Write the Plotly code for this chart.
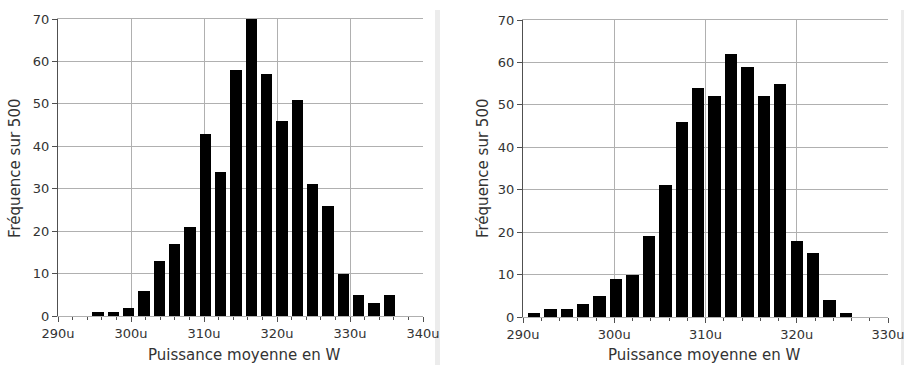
import plotly.graph_objects as go

W, H = 904, 365

# Left histogram
left_centers = [295.5, 297.6, 299.7, 301.8, 303.9, 306.0, 308.1, 310.2, 312.3, 314.4,
                316.5, 318.6, 320.7, 322.8, 324.9, 327.0, 329.1, 331.2, 333.3, 335.4]
left_counts = [1, 1, 2, 6, 13, 17, 21, 43, 34, 58, 70, 57, 46, 51, 31, 26, 10, 5, 3, 5]

# Right histogram
right_centers = [291.2, 293.0, 294.8, 296.6, 298.4, 300.2, 302.0, 303.8, 305.6, 307.4,
                 309.2, 311.0, 312.8, 314.6, 316.4, 318.2, 320.0, 321.8, 323.6, 325.4]
right_counts = [1, 2, 2, 3, 5, 9, 10, 19, 31, 46, 54, 52, 62, 59, 52, 55, 18, 15, 4, 1]

x_title = "Puissance moyenne en W"
y_title = "Fréquence sur 500"

FONT = "DejaVu Sans"
TXT = "#333333"
GRID = "#b0b0b0"
AXIS = "#505050"


def px(x):
    return x / W


def py(y):
    return 1 - y / H


fig = go.Figure()
fig.add_trace(go.Bar(x=left_centers, y=left_counts, width=1.55, marker=dict(color="black", line=dict(width=0)),
                     xaxis="x", yaxis="y", showlegend=False, hoverinfo="skip"))
fig.add_trace(go.Bar(x=right_centers, y=right_counts, width=1.35, marker=dict(color="black", line=dict(width=0)),
                     xaxis="x2", yaxis="y2", showlegend=False, hoverinfo="skip"))


def xax(domain, rng, anchor):
    return dict(domain=domain, range=rng, anchor=anchor, dtick=10, tick0=290, ticksuffix="u",
                automargin=False, ticklabeloverflow="allow",
                showgrid=True, gridcolor=GRID, gridwidth=1, zeroline=False,
                showline=True, linecolor=GRID, linewidth=1, mirror=True,
                ticks="outside", ticklen=5, tickcolor=AXIS, tickwidth=1,
                minor=dict(dtick=2, ticks="outside", ticklen=3, tickcolor=AXIS, showgrid=False),
                tickfont=dict(family=FONT, size=13, color=TXT), fixedrange=True)


def yax(domain, anchor):
    return dict(domain=domain, range=[0, 70], anchor=anchor, dtick=10,
                automargin=False, ticklabeloverflow="allow",
                showgrid=True, gridcolor=GRID, gridwidth=1, zeroline=False,
                showline=True, linecolor=AXIS, linewidth=1, mirror=False,
                ticks="outside", ticklen=5, tickcolor=AXIS, tickwidth=1,
                tickfont=dict(family=FONT, size=13, color=TXT), fixedrange=True)


fig.update_layout(
    width=W, height=H,
    margin=dict(l=0, r=0, t=0, b=0, autoexpand=False),
    paper_bgcolor="white", plot_bgcolor="white",
    bargap=0,
    xaxis=xax([px(58), px(423)], [290, 340], "y"),
    yaxis=yax([py(316), py(19)], "x"),
    xaxis2=xax([px(523), px(888)], [290, 330], "y2"),
    yaxis2=yax([py(317), py(20)], "x2"),
    font=dict(family=FONT, size=13, color=TXT),
)

annos = [
    dict(text=x_title, x=px(244), y=py(355)),
    dict(text=x_title, x=px(704), y=py(355)),
    dict(text=y_title, x=px(15), y=py(168), textangle=-90),
    dict(text=y_title, x=px(483), y=py(168), textangle=-90),
]
for a in annos:
    fig.add_annotation(xref="paper", yref="paper", xanchor="center", yanchor="middle",
                       showarrow=False, font=dict(family=FONT, size=15, color=TXT), **a)

# light grey separator strips on the right of each panel
for x0, x1 in [(435, 440), (901, 904)]:
    fig.add_shape(type="rect", xref="paper", yref="paper", x0=px(x0), x1=px(x1), y0=0, y1=py(10),
                  fillcolor="#ececec", line=dict(width=0), layer="below")

fig.write_html("out.html", config={"displayModeBar": False, "staticPlot": True},
               post_script="document.body.style.margin='0';document.body.style.overflow='hidden';")
